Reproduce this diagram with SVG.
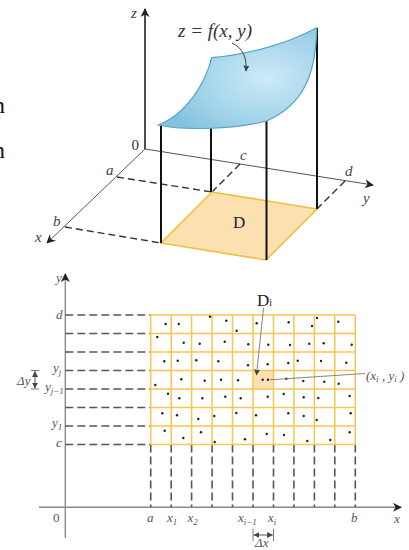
<svg xmlns="http://www.w3.org/2000/svg" width="409" height="550" viewBox="0 0 409 550">
<style>
.lbl{font-family:"Liberation Serif",serif;font-style:italic;fill:#555;font-size:13px}
.tl{font-family:"Liberation Serif",serif;font-style:italic;fill:#444;font-size:15px}
.sub{font-size:9px}
.ax3{stroke:#555;stroke-width:1;fill:none}
.dash3{stroke:#333;stroke-width:1.4;stroke-dasharray:7 4;fill:none}
.post{stroke:#111;stroke-width:2;fill:none}
.grid{stroke:#F7C64E;stroke-width:1.5;fill:none}
.dash2{stroke:#555;stroke-width:1.6;stroke-dasharray:8 4;fill:none}
.dot{fill:#222}
.lead{stroke:#777;stroke-width:0.9;fill:none}
</style>
<defs>
<marker id="ah" viewBox="0 0 10 10" refX="9" refY="5" markerWidth="9" markerHeight="9" markerUnits="userSpaceOnUse" orient="auto">
<path d="M0,0 L10,5 L0,10 L3,5 Z" fill="#222"/>
</marker>
<marker id="ahs" viewBox="0 0 10 10" refX="9" refY="5" markerWidth="6" markerHeight="6" markerUnits="userSpaceOnUse" orient="auto-start-reverse">
<path d="M0,0 L10,5 L0,10 Z" fill="#444"/>
</marker>
<radialGradient id="surf" cx="0.68" cy="0.5" r="0.7">
<stop offset="0" stop-color="#cdeaf6"/>
<stop offset="0.6" stop-color="#a3d4ea"/>
<stop offset="1" stop-color="#82c2dd"/>
</radialGradient>
</defs>

<!-- cut-off margin text -->
<text x="-7" y="113" font-family="Liberation Serif,serif" font-size="24" fill="#111">n</text>
<text x="-7" y="158" font-family="Liberation Serif,serif" font-size="24" fill="#111">n</text>

<!-- ===== 3D figure ===== -->
<g id="axes3d">
<line x1="145" y1="149" x2="145" y2="9" stroke="#111" stroke-width="1.5" marker-end="url(#ah)"/>
<line x1="145" y1="149" x2="373" y2="185" class="ax3" marker-end="url(#ah)"/>
<line x1="145" y1="149" x2="47" y2="243" class="ax3" marker-end="url(#ah)"/>
</g>
<g id="dashes3d">
<line x1="117" y1="177" x2="212" y2="192" class="dash3"/>
<line x1="65" y1="227" x2="161" y2="243" class="dash3"/>
<line x1="240" y1="164" x2="212" y2="192" class="dash3"/>
<line x1="345" y1="181" x2="317" y2="209" class="dash3"/>
</g>
<g id="regionD">
<path d="M212,192 L317,209 L266,260 L161,243 Z" fill="#FCE0B0" stroke="#F2BE3C" stroke-width="1.6"/>
<text x="233" y="228" font-family="Liberation Serif,serif" font-size="17" fill="#222">D</text>
</g>
<g id="posts">
<line x1="161" y1="124" x2="161" y2="243" class="post"/>
<line x1="211" y1="60" x2="211" y2="192" class="post"/>
<line x1="266.5" y1="120" x2="266.5" y2="260" class="post"/>
<line x1="317" y1="28" x2="317" y2="209" class="post"/>
</g>
<g id="surface">
<path d="M158.3,125 C185,115 205,85 211.7,57.7 C245,55 285,45 316.7,27.7 C316,75 303,105 266.7,121 C235,129 185,131 158.3,125 Z" fill="url(#surf)" stroke="#55a3c5" stroke-width="1.2"/>
</g>
<g id="surfaceLabel">
<text x="178" y="37" font-family="Liberation Serif,serif" font-style="italic" font-size="19" fill="#333">z = f(x, y)</text>
<path d="M232,43 C243,48 247,58 246,71" stroke="#444" stroke-width="1" fill="none" marker-end="url(#ahs)"/>
</g>
<g id="labels3d">
<text x="131" y="18" class="tl" font-size="14">z</text>
<text x="131.5" y="149.5" font-family="Liberation Serif,serif" font-size="15" fill="#333">0</text>
<text x="106" y="175" class="tl">a</text>
<text x="53" y="226" class="tl">b</text>
<text x="35" y="242" class="tl">x</text>
<text x="240" y="160" class="tl">c</text>
<text x="345" y="176" class="tl">d</text>
<text x="363" y="203" class="tl">y</text>
</g>

<!-- ===== 2D figure ===== -->
<g id="axes2d">
<line x1="65.3" y1="538" x2="65.3" y2="274" stroke="#8a8a8a" stroke-width="1.4" marker-end="url(#ah)"/>
<line x1="39" y1="507.3" x2="401" y2="507.3" stroke="#8a8a8a" stroke-width="1.4" marker-end="url(#ah)"/>
</g>
<g id="connectors">
<g id="hdash">
<line x1="65.3" y1="315" x2="150.7" y2="315" class="dash2"/>
<line x1="65.3" y1="333.5" x2="150.7" y2="333.5" class="dash2"/>
<line x1="65.3" y1="352" x2="150.7" y2="352" class="dash2"/>
<line x1="65.3" y1="370.5" x2="150.7" y2="370.5" class="dash2"/>
<line x1="65.3" y1="389" x2="150.7" y2="389" class="dash2"/>
<line x1="65.3" y1="407.5" x2="150.7" y2="407.5" class="dash2"/>
<line x1="65.3" y1="426" x2="150.7" y2="426" class="dash2"/>
<line x1="65.3" y1="444.5" x2="150.7" y2="444.5" class="dash2"/>
</g>
<g id="vdash">
<line x1="150.7" y1="444.5" x2="150.7" y2="507" class="dash2"/>
<line x1="171.2" y1="444.5" x2="171.2" y2="507" class="dash2"/>
<line x1="191.6" y1="444.5" x2="191.6" y2="507" class="dash2"/>
<line x1="212.1" y1="444.5" x2="212.1" y2="507" class="dash2"/>
<line x1="232.5" y1="444.5" x2="232.5" y2="507" class="dash2"/>
<line x1="253" y1="444.5" x2="253" y2="507" class="dash2"/>
<line x1="273.5" y1="444.5" x2="273.5" y2="507" class="dash2"/>
<line x1="293.9" y1="444.5" x2="293.9" y2="507" class="dash2"/>
<line x1="314.4" y1="444.5" x2="314.4" y2="507" class="dash2"/>
<line x1="334.8" y1="444.5" x2="334.8" y2="507" class="dash2"/>
<line x1="355.3" y1="444.5" x2="355.3" y2="507" class="dash2"/>
</g>
</g>
<g id="grid">
<rect x="253" y="370.5" width="20.5" height="18.5" fill="#FCE2B2"/>
<path class="grid" d="M150.7,315V444.5M171.2,315V444.5M191.6,315V444.5M212.1,315V444.5M232.5,315V444.5M253,315V444.5M273.5,315V444.5M293.9,315V444.5M314.4,315V444.5M334.8,315V444.5M355.3,315V444.5
M150.7,315H355.3M150.7,333.5H355.3M150.7,352H355.3M150.7,370.5H355.3M150.7,389H355.3M150.7,407.5H355.3M150.7,426H355.3M150.7,444.5H355.3"/>
</g>
<g id="dots">
<circle class="dot" cx="165.7" cy="324" r="1.2"/><circle class="dot" cx="178.7" cy="324" r="1.2"/><circle class="dot" cx="210" cy="316.7" r="1.2"/><circle class="dot" cx="226.3" cy="320.7" r="1.2"/><circle class="dot" cx="236.7" cy="330.7" r="1.2"/>
<circle class="dot" cx="157.3" cy="337" r="1.2"/><circle class="dot" cx="183.7" cy="342.7" r="1.2"/><circle class="dot" cx="199.7" cy="343.7" r="1.2"/><circle class="dot" cx="224.7" cy="341.7" r="1.2"/><circle class="dot" cx="248.3" cy="344.3" r="1.2"/>
<circle class="dot" cx="164.3" cy="361.3" r="1.2"/><circle class="dot" cx="177.7" cy="360.7" r="1.2"/><circle class="dot" cx="196.3" cy="360.3" r="1.2"/><circle class="dot" cx="218.3" cy="361.3" r="1.2"/><circle class="dot" cx="248" cy="365.3" r="1.2"/>
<circle class="dot" cx="155.3" cy="385" r="1.2"/><circle class="dot" cx="181.3" cy="379.3" r="1.2"/><circle class="dot" cx="204.7" cy="380.7" r="1.2"/><circle class="dot" cx="221" cy="379.7" r="1.2"/><circle class="dot" cx="238" cy="380.3" r="1.2"/>
<circle class="dot" cx="168" cy="393.7" r="1.2"/><circle class="dot" cx="179.3" cy="398.3" r="1.2"/><circle class="dot" cx="202.3" cy="398.3" r="1.2"/><circle class="dot" cx="225.3" cy="396.7" r="1.2"/><circle class="dot" cx="240.7" cy="398.3" r="1.2"/>
<circle class="dot" cx="162.3" cy="413.3" r="1.2"/><circle class="dot" cx="177" cy="415.3" r="1.2"/><circle class="dot" cx="198.3" cy="419" r="1.2"/><circle class="dot" cx="214.3" cy="416" r="1.2"/><circle class="dot" cx="236.3" cy="413" r="1.2"/>
<circle class="dot" cx="164.7" cy="430.7" r="1.2"/><circle class="dot" cx="183.3" cy="438" r="1.2"/><circle class="dot" cx="201" cy="432.3" r="1.2"/><circle class="dot" cx="214.7" cy="442" r="1.2"/><circle class="dot" cx="245" cy="439.3" r="1.2"/>
<circle class="dot" cx="256.7" cy="323.3" r="1.2"/><circle class="dot" cx="288.7" cy="322.3" r="1.2"/><circle class="dot" cx="312" cy="326" r="1.2"/><circle class="dot" cx="317" cy="318" r="1.2"/><circle class="dot" cx="338.3" cy="321.7" r="1.2"/>
<circle class="dot" cx="268.3" cy="344.7" r="1.2"/><circle class="dot" cx="290" cy="345" r="1.2"/><circle class="dot" cx="309.3" cy="343.7" r="1.2"/><circle class="dot" cx="323.7" cy="343.3" r="1.2"/><circle class="dot" cx="351.7" cy="344.7" r="1.2"/>
<circle class="dot" cx="267.7" cy="364.3" r="1.2"/><circle class="dot" cx="288.3" cy="363" r="1.2"/><circle class="dot" cx="297.7" cy="360.7" r="1.2"/><circle class="dot" cx="321" cy="361" r="1.2"/><circle class="dot" cx="346.3" cy="362.7" r="1.2"/>
<circle class="dot" cx="262.7" cy="379.7" r="1.2"/><circle class="dot" cx="268" cy="379.7" r="1.2"/><circle class="dot" cx="286.3" cy="378.7" r="1.2"/><circle class="dot" cx="303.3" cy="381" r="1.2"/><circle class="dot" cx="324.3" cy="381.7" r="1.2"/><circle class="dot" cx="338.7" cy="383.7" r="1.2"/>
<circle class="dot" cx="267.7" cy="396.7" r="1.2"/><circle class="dot" cx="283.7" cy="394" r="1.2"/><circle class="dot" cx="303.7" cy="397.3" r="1.2"/><circle class="dot" cx="318.3" cy="398" r="1.2"/><circle class="dot" cx="349.7" cy="396" r="1.2"/>
<circle class="dot" cx="256" cy="415.3" r="1.2"/><circle class="dot" cx="288.3" cy="413.3" r="1.2"/><circle class="dot" cx="303.7" cy="416" r="1.2"/><circle class="dot" cx="316.7" cy="420" r="1.2"/><circle class="dot" cx="350.7" cy="413.3" r="1.2"/>
<circle class="dot" cx="266.7" cy="434" r="1.2"/><circle class="dot" cx="284" cy="435" r="1.2"/><circle class="dot" cx="307.3" cy="441" r="1.2"/><circle class="dot" cx="330.3" cy="440" r="1.2"/><circle class="dot" cx="349.7" cy="432.3" r="1.2"/>
</g>
<g id="leaders">
<line x1="263.5" y1="308" x2="256.5" y2="375" class="lead" marker-end="url(#ahs)"/>
<line x1="365" y1="373.5" x2="270" y2="379.8" class="lead"/>
</g>
<g id="labelDi">
<text x="257" y="306" font-family="Liberation Serif,serif" font-size="17" fill="#222">D<tspan font-size="10">i</tspan></text>
</g>
<g id="labelXiYi">
<text x="366" y="380" class="lbl" font-size="11">(x<tspan class="sub" dy="2">i</tspan><tspan dy="-2"> , y</tspan><tspan class="sub" dy="2">i</tspan><tspan dy="-2"> )</tspan></text>
</g>
<g id="labels2d">
<text x="56" y="282" class="lbl">y</text>
<text x="56" y="319" class="lbl">d</text>
<text x="53" y="372" class="lbl">y<tspan class="sub" dy="3">j</tspan></text>
<text x="45" y="391" class="lbl">y<tspan class="sub" dy="3">j−1</tspan></text>
<text x="52" y="427" class="lbl">y<tspan class="sub" dy="3">1</tspan></text>
<text x="56" y="447" class="lbl">c</text>
<text x="53" y="522" font-family="Liberation Serif,serif" font-size="13" fill="#555">0</text>
<text x="147" y="522" class="lbl">a</text>
<text x="167" y="522" class="lbl">x<tspan class="sub" dy="3">1</tspan></text>
<text x="187.5" y="522" class="lbl">x<tspan class="sub" dy="3">2</tspan></text>
<text x="238" y="522" class="lbl">x<tspan class="sub" dy="3">i−1</tspan></text>
<text x="268" y="522" class="lbl">x<tspan class="sub" dy="3">i</tspan></text>
<text x="351" y="522" class="lbl">b</text>
<text x="394" y="523" class="lbl">x</text>
</g>
<g id="deltaX">
<line x1="253" y1="529" x2="253" y2="541" stroke="#555" stroke-width="0.8"/>
<line x1="273.5" y1="529" x2="273.5" y2="541" stroke="#555" stroke-width="0.8"/>
<line x1="254" y1="535" x2="272.5" y2="535" stroke="#444" stroke-width="0.9" marker-start="url(#ahs)" marker-end="url(#ahs)"/>
<text x="255" y="547" class="lbl" font-size="12" font-style="normal">Δ<tspan font-style="italic">x</tspan></text>
</g>
<g id="deltaY">
<line x1="31" y1="370.5" x2="39" y2="370.5" stroke="#555" stroke-width="0.8"/>
<line x1="31" y1="389" x2="39" y2="389" stroke="#555" stroke-width="0.8"/>
<line x1="35" y1="371.5" x2="35" y2="388" stroke="#444" stroke-width="0.9" marker-start="url(#ahs)" marker-end="url(#ahs)"/>
<text x="17" y="385" class="lbl" font-size="13" font-style="normal">Δ<tspan font-style="italic">y</tspan></text>
</g>
</svg>
